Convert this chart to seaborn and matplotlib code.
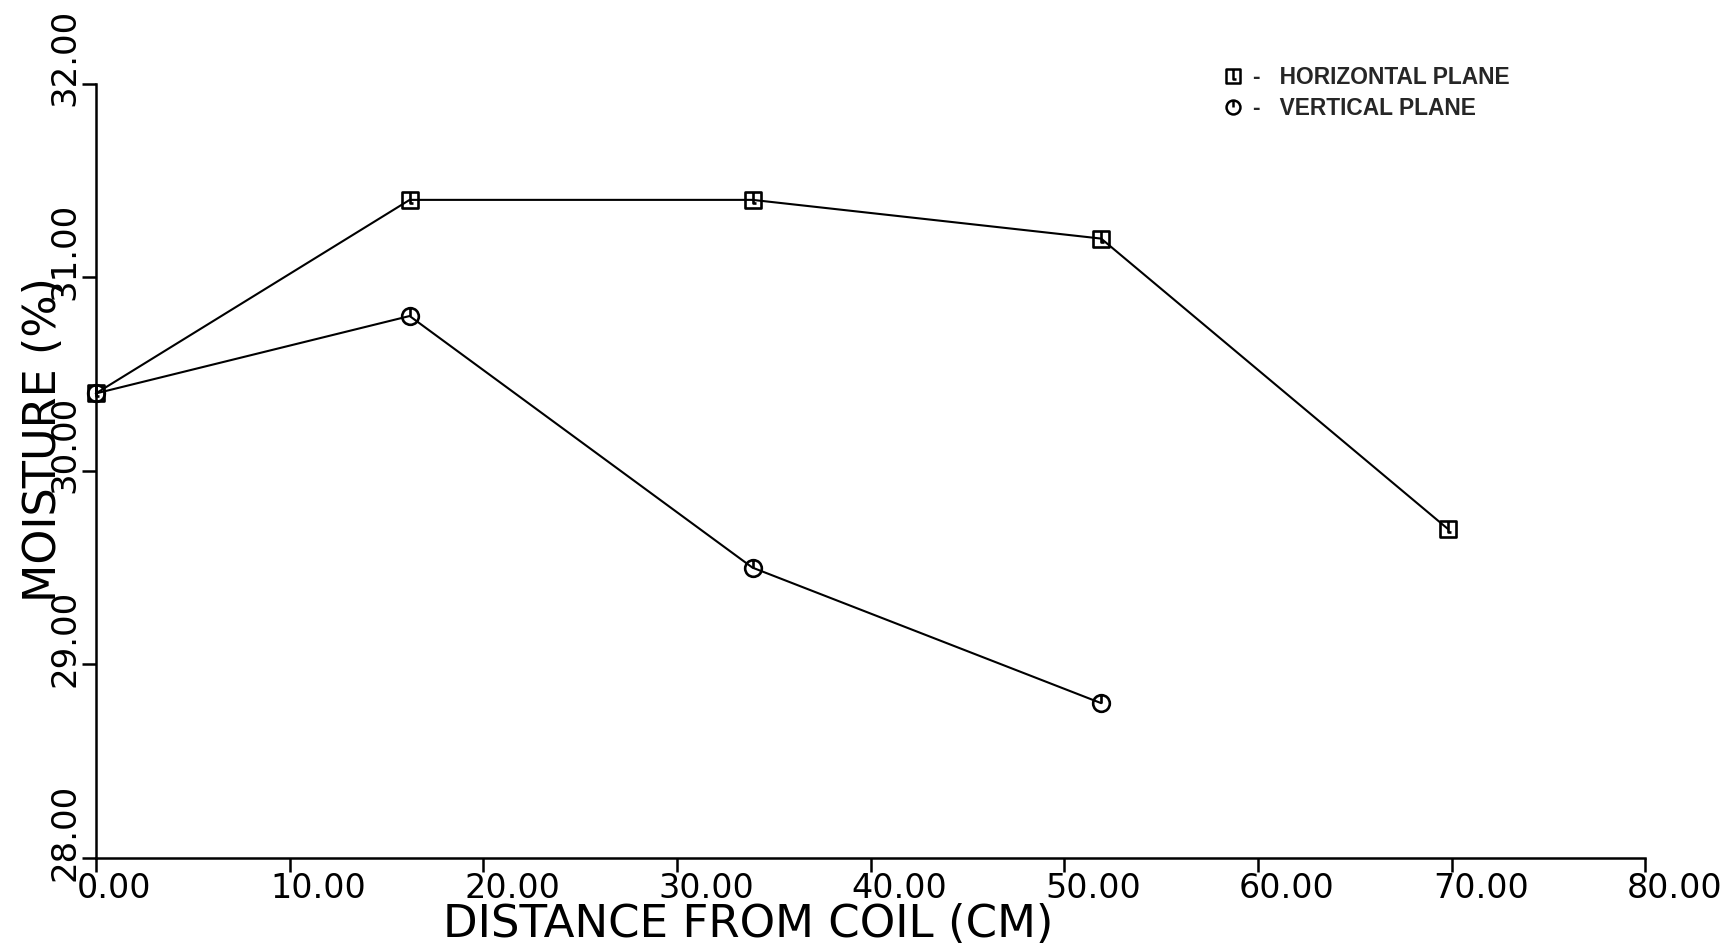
import numpy as np
import pandas as pd
import matplotlib
matplotlib.use("Agg")
import matplotlib.pyplot as plt
import matplotlib.transforms as mtransforms
from matplotlib.path import Path
from matplotlib.lines import Line2D
import seaborn as sns

# Moisture readings along two planes
horizontal_dist = [0, 16.2, 33.9, 51.9, 69.8]
horizontal_moist = [30.40, 31.40, 31.40, 31.20, 29.70]
vertical_dist = [0, 16.2, 33.9, 51.9]
vertical_moist = [30.40, 30.80, 29.50, 28.80]
series_names = ["HORIZONTAL PLANE", "VERTICAL PLANE"]

x_ticks = [0, 10, 20, 30, 40, 50, 60, 70, 80]
y_ticks = [28, 29, 30, 31, 32]

df = pd.DataFrame({
    "dist": horizontal_dist + vertical_dist,
    "moist": horizontal_moist + vertical_moist,
    "plane": [series_names[0]] * len(horizontal_dist) + [series_names[1]] * len(vertical_dist),
})

# Plotter-style symbols: box / circle with a short stroke from the top edge
sq = Path([(-1, -1), (1, -1), (1, 1), (-1, 1), (-1, -1), (0, 1), (0, -0.4), (0.4, -0.4)],
          [Path.MOVETO, Path.LINETO, Path.LINETO, Path.LINETO, Path.CLOSEPOLY,
           Path.MOVETO, Path.LINETO, Path.LINETO])
stroke = Path([(0, 1), (0, 0.0)], [Path.MOVETO, Path.LINETO])
circ = Path.make_compound_path(Path.unit_circle(), stroke)

sns.set_style("ticks")
plt.rcParams["font.family"] = ["DejaVu Sans"]

fig = plt.figure(figsize=(17.27, 9.44), dpi=100)
ax = fig.add_axes([0.0555, 0.0911, 0.8973, 0.8202])

sns.lineplot(data=df, x="dist", y="moist", hue="plane", style="plane",
             palette=["black", "black"], markers={series_names[0]: sq, series_names[1]: circ},
             dashes=False, linewidth=1.5, markersize=12, mfc="none", mec="black",
             mew=1.9, legend=False, ax=ax)
for ln in ax.lines:
    ln.set_clip_on(False)

ax.set_xlim(0, 80)
ax.set_ylim(28, 32)
ax.set_xticks(x_ticks)
ax.set_yticks(y_ticks)
ax.tick_params(axis="both", direction="out", length=10, width=1.8, color="black",
               labelbottom=False, labelleft=False)
for side in ("top", "right"):
    ax.spines[side].set_visible(False)
for side in ("left", "bottom"):
    ax.spines[side].set_linewidth(1.8)
    ax.spines[side].set_color("black")

# Tick labels: x labels start a little left of each tick, y labels sit above each tick
dpi_tr = fig.dpi_scale_trans
x_off = mtransforms.ScaledTranslation(-0.19, -0.40, dpi_tr)
for v in x_ticks:
    ax.text(v, 0, f"{v:.2f}", transform=ax.get_xaxis_transform() + x_off,
            ha="left", va="baseline", fontsize=24, color="black")
y_off = mtransforms.ScaledTranslation(-0.21, 0.26, dpi_tr)
for v in y_ticks:
    ax.text(0, v, f"{v:.2f}", transform=ax.get_yaxis_transform() + y_off,
            ha="center", va="baseline", rotation=90, rotation_mode="anchor",
            fontsize=24.5, color="black")

ax.set_xlabel("DISTANCE FROM COIL (CM)", fontsize=32.5, color="black")
ax.set_ylabel("MOISTURE (%)", fontsize=32, color="black")
ax.xaxis.set_label_coords(0.421, -0.058)
ax.yaxis.set_label_coords(-0.020, 0.54)

handles = [
    Line2D([], [], marker=sq, ls="none", mfc="none", mec="black", mew=1.8, markersize=10),
    Line2D([], [], marker=circ, ls="none", mfc="none", mec="black", mew=1.8, markersize=10),
]
fig.legend(handles, ["-   " + s for s in series_names], loc="upper left",
           bbox_to_anchor=(1226 / 1727, 1 - 66 / 944), frameon=False,
           borderpad=0, borderaxespad=0, handlelength=0.6, handletextpad=0.6,
           labelspacing=0.36, prop={"family": "Liberation Sans", "weight": "bold", "size": 16.4})

fig.savefig("out.png", dpi=100, facecolor="white")
